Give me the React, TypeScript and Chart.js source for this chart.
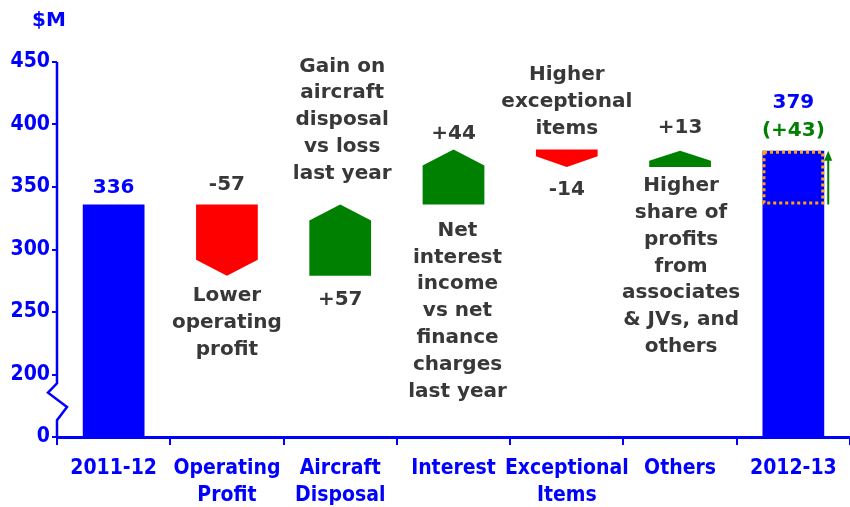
import React, { useEffect, useRef } from 'react';
import { Chart, registerables } from 'chart.js';

Chart.register(...registerables);

// ---------- DATA ----------
const categories: string[][] = [
  ['2011-12'],
  ['Operating', 'Profit'],
  ['Aircraft', 'Disposal'],
  ['Interest'],
  ['Exceptional', 'Items'],
  ['Others'],
  ['2012-13'],
];
// first and last entries are totals, the others are changes
const amounts = [336, -57, 57, 44, -14, 13, 379];
const isTotal = [true, false, false, false, false, false, true];
const valueLabels = ['336', '-57', '+57', '+44', '-14', '+13', '379'];
const totalChangeLabel = '(+43)';
const notes: string[][] = [
  [],
  ['Lower', 'operating', 'profit'],
  ['Gain on', 'aircraft', 'disposal', 'vs loss', 'last year'],
  ['Net', 'interest', 'income', 'vs net', 'finance', 'charges', 'last year'],
  ['Higher', 'exceptional', 'items'],
  ['Higher', 'share of', 'profits', 'from', 'associates', '& JVs, and', 'others'],
  [],
];
// the axis is broken: its lowest tick (the break base) is labelled 0
const axisBase = 150;
const axisMax = 450;
const axisStep = 50;
const axisBreakLabel = '0';
const unitLabel = '$M';

// ---------- STYLE / LAYOUT ----------
const BLUE = '#0000FF';
const RED = '#FF0000';
const GREEN = '#008000';
const ORANGE = '#FFA500';
const GREY = '#383838';
const FONT_C = '"DejaVu Sans Condensed", "DejaVu Sans", sans-serif';
const FONT = '"DejaVu Sans", sans-serif';
const LINE_H = 26.8;
// placement of value labels: side and gap in px from the mark edge
const valuePlace: [string, number][] = [
  ['above', 17], ['above', 20], ['below', 24], ['above', 16], ['below', 23], ['above', 23], ['above', 48],
];
// placement of notes: side, gap from mark edge, x shift
const notePlace: [string, number, number][] = [
  ['below', 0, 0], ['below', 20, 0], ['above', 31, 2], ['below', 26, 4], ['above', 21, 0], ['below', 19, 1], ['below', 0, 0],
];

// floating bars built from the amounts
function buildBars(): [number, number][] {
  const out: [number, number][] = [];
  let run = 0;
  amounts.forEach((a, i) => {
    if (isTotal[i]) {
      out.push([axisBase, a]);
      run = a;
    } else {
      out.push([run, run + a]);
      run += a;
    }
  });
  return out;
}

const drawPlugin = {
  id: 'waterfallDecor',
  afterDatasetsDraw(chart: any) {
    const ctx = chart.ctx as CanvasRenderingContext2D;
    const meta = chart.getDatasetMeta(0);
    const yScale = chart.scales.y;
    ctx.save();

    // arrows for changes
    meta.data.forEach((el: any, i: number) => {
      if (isTotal[i]) return;
      const { x, y, base, width } = el.getProps(['x', 'y', 'base', 'width'], true);
      const left = x - width / 2;
      const right = x + width / 2;
      const top = Math.min(y, base);
      const bottom = Math.max(y, base);
      const h = Math.min(16, (bottom - top) * 0.62);
      ctx.beginPath();
      if (amounts[i] >= 0) {
        ctx.fillStyle = GREEN;
        ctx.moveTo(left, bottom);
        ctx.lineTo(left, top + h);
        ctx.lineTo(x, top);
        ctx.lineTo(right, top + h);
        ctx.lineTo(right, bottom);
      } else {
        ctx.fillStyle = RED;
        ctx.moveTo(left, top);
        ctx.lineTo(right, top);
        ctx.lineTo(right, bottom - h);
        ctx.lineTo(x, bottom);
        ctx.lineTo(left, bottom - h);
      }
      ctx.closePath();
      ctx.fill();
    });

    // dotted box + arrow showing the change on the last total
    const lastIdx = amounts.length - 1;
    const lastEl = meta.data[lastIdx];
    {
      const { x, width } = lastEl.getProps(['x', 'width'], true);
      const yTop = yScale.getPixelForValue(amounts[lastIdx]);
      const yBot = yScale.getPixelForValue(amounts[0]);
      ctx.strokeStyle = ORANGE;
      ctx.lineWidth = 3;
      ctx.setLineDash([3, 3]);
      ctx.strokeRect(x - width / 2 + 1.5, yTop + 1.5, width - 3, yBot - yTop - 3);
      ctx.setLineDash([]);
      const ax = x + width / 2 + 4;
      ctx.strokeStyle = GREEN;
      ctx.lineWidth = 2;
      ctx.beginPath();
      ctx.moveTo(ax, yBot);
      ctx.lineTo(ax, yTop + 8);
      ctx.stroke();
      ctx.fillStyle = GREEN;
      ctx.beginPath();
      ctx.moveTo(ax, yTop);
      ctx.lineTo(ax - 4, yTop + 10);
      ctx.lineTo(ax + 4, yTop + 10);
      ctx.closePath();
      ctx.fill();
    }

    // labels
    ctx.textAlign = 'center';
    ctx.textBaseline = 'middle';
    meta.data.forEach((el: any, i: number) => {
      const { x, y, base } = el.getProps(['x', 'y', 'base'], true);
      const top = Math.min(y, base);
      const bottom = Math.max(y, base);
      const [side, gap] = valuePlace[i];
      const ly = side === 'above' ? top - gap : bottom + gap;
      ctx.font = `bold 20px ${FONT}`;
      ctx.fillStyle = isTotal[i] ? BLUE : GREY;
      ctx.fillText(valueLabels[i], x, ly);
      if (i === lastIdx) {
        ctx.fillStyle = GREEN;
        ctx.fillText(totalChangeLabel, x, top - 20);
      }
      const lines = notes[i];
      if (lines.length) {
        const [nside, ngap, dx] = notePlace[i];
        ctx.font = `bold 20px ${FONT}`;
        ctx.fillStyle = GREY;
        lines.forEach((t, k) => {
          const yy = nside === 'above'
            ? top - ngap - (lines.length - 1 - k) * LINE_H
            : bottom + ngap + k * LINE_H;
          ctx.fillText(t, x + dx, yy);
        });
      }
    });

    // y axis line with break
    const ax = chart.chartArea.left;
    const yTopAxis = yScale.getPixelForValue(axisMax);
    const y0 = yScale.getPixelForValue(axisBase);
    const y1 = yScale.getPixelForValue(axisBase + axisStep);
    const d = y0 - y1;
    ctx.strokeStyle = BLUE;
    ctx.lineWidth = 2.5;
    ctx.beginPath();
    ctx.moveTo(ax, yTopAxis);
    ctx.lineTo(ax, y1 + d * 0.14);
    ctx.lineTo(ax - 9, y1 + d * 0.29);
    ctx.lineTo(ax + 10, y1 + d * 0.52);
    ctx.lineTo(ax, y1 + d * 0.73);
    ctx.lineTo(ax, y0);
    ctx.stroke();

    // unit label
    ctx.font = `bold 20px ${FONT}`;
    ctx.fillStyle = BLUE;
    ctx.fillText(unitLabel, 49, 21);
    ctx.restore();
  },
};

export default function App() {
  const ref = useRef<HTMLCanvasElement | null>(null);
  useEffect(() => {
    if (!ref.current) return;
    const bars = buildBars();
    const chart = new Chart(ref.current, {
      type: 'bar',
      data: {
        labels: categories,
        datasets: [
          {
            data: bars,
            backgroundColor: isTotal.map((t) => (t ? BLUE : 'rgba(0,0,0,0)')),
            borderWidth: 0,
            barPercentage: 0.545,
            categoryPercentage: 1,
          },
        ],
      },
      options: {
        animation: false,
        responsive: true,
        maintainAspectRatio: false,
        layout: { padding: { top: 62, right: 0, left: 0, bottom: 0 } },
        plugins: { legend: { display: false }, tooltip: { enabled: false } },
        scales: {
          x: {
            offset: true,
            grid: {
              offset: true,
              drawOnChartArea: false,
              drawTicks: true,
              tickLength: 8,
              color: BLUE,
              lineWidth: 2,
            },
            border: { display: true, color: BLUE, width: 3 },
            ticks: {
              color: BLUE,
              font: { family: FONT_C, weight: 'bold', size: 21, lineHeight: 1.28 },
              padding: 10,
              maxRotation: 0,
              autoSkip: false,
            },
            afterFit: (s: any) => {
              s.height = 70;
            },
          },
          y: {
            min: axisBase,
            max: axisMax,
            grid: {
              drawOnChartArea: false,
              drawTicks: true,
              tickLength: 5,
              color: BLUE,
              lineWidth: 2,
            },
            border: { display: false },
            ticks: {
              stepSize: axisStep,
              color: BLUE,
              padding: 2,
              font: { family: FONT_C, weight: 'bold', size: 21 },
              callback: (v: any) => (v === axisBase ? axisBreakLabel : String(v)),
            },
            afterFit: (s: any) => {
              s.width = 57;
            },
          },
        },
      },
      plugins: [drawPlugin],
    });
    return () => chart.destroy();
  }, []);
  return (
    <div style={{ position: 'absolute', left: 0, top: 0, width: 850, height: 507, background: '#fff' }}>
      <canvas ref={ref} />
    </div>
  );
}
